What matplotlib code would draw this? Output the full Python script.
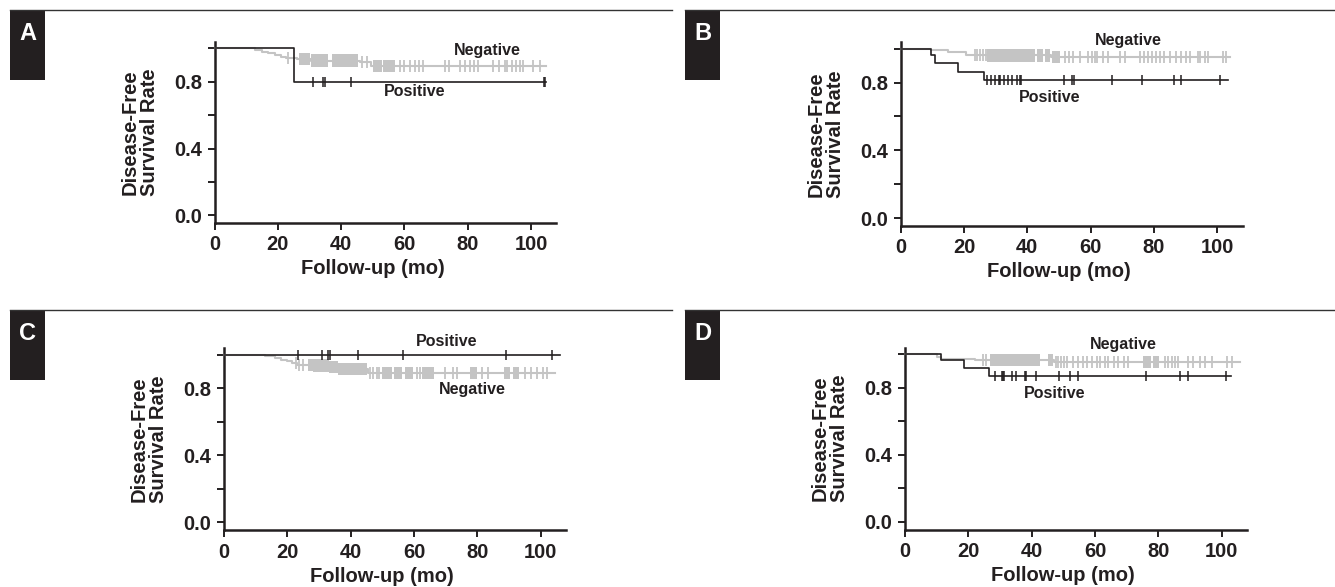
import numpy as np
import matplotlib.pyplot as plt
from matplotlib.patches import Rectangle
from matplotlib.lines import Line2D

plt.rcParams['font.family'] = ['Liberation Sans', 'DejaVu Sans']
plt.rcParams['font.weight'] = 'bold'

BLACK = '#231f20'
GRAY = '#c4c4c4'

# ------------------------------------------------------------
# dane (czas w miesiacach, przezycie)
# ------------------------------------------------------------
# A
a_pos_times = [0, 25.2]
a_pos_surv = [1.0, 0.80]
a_pos_censor = [31.0, 34.4, 34.9, 43.0, 103.9, 104.5]
a_pos_end = 104.8
a_neg_times = [0, 12.8, 15, 17, 19, 21, 22.5, 26, 30.4, 46, 49.5]
a_neg_surv = [1.0, 0.99, 0.98, 0.97, 0.96, 0.95, 0.945, 0.935, 0.927, 0.92, 0.895]
a_neg_censor = [23.1, 46.5, 48.1, 58.6, 59.9, 61.8, 63.4, 64.6, 66.0, 72.8, 73.9, 77.6,
                79.1, 80.7, 82.0, 83.3, 88.1, 89.9, 91.8, 92.3, 93.8, 95.1, 96.5, 97.5,
                100.7, 102.8]
a_neg_blocks = [(26.8, 30.2), (30.5, 36.0), (37.2, 45.4), (50.2, 52.8), (53.3, 57.0)]
a_neg_end = 104.8

# B
b_pos_times = [0, 9.5, 10.8, 18.2, 26.4]
b_pos_surv = [1.0, 0.962, 0.913, 0.864, 0.815]
b_pos_censor = [27.3, 28.5, 29.7, 31.0, 31.3, 32.6, 33.9, 35.2, 36.6, 37.6, 37.9, 51.6,
                54.2, 54.7, 66.7, 76.3, 86.2, 88.6, 100.7]
b_pos_end = 103.3
b_neg_times = [0, 9.5, 15, 20.5, 47.5]
b_neg_surv = [1.0, 0.99, 0.98, 0.96, 0.95]
b_neg_censor = [23.5, 24.0, 25.0, 26.1, 26.9, 51.8, 53.2, 54.5, 56.5, 59.2, 60.5, 61.3,
                62.0, 63.9, 65.5, 69.2, 70.7, 75.5, 76.8, 78.1, 79.4, 80.7, 81.8, 83.3,
                85.1, 87.0, 88.6, 90.2, 91.5, 93.9, 94.6, 96.0, 97.0, 101.7, 102.8]
b_neg_blocks = [(27.3, 42.4), (43.1, 45.0), (45.7, 47.1), (47.9, 50.2)]
b_neg_end = 103.9

# C
c_pos_times = [0]
c_pos_surv = [1.0]
c_pos_censor = [23.5, 31.0, 32.8, 33.5, 42.4, 56.6, 89.0, 103.6]
c_pos_end = 106.0
c_neg_times = [0, 12.9, 16, 18, 20, 21.5, 23, 28, 33, 36, 45.5]
c_neg_surv = [1.0, 0.99, 0.98, 0.97, 0.96, 0.95, 0.94, 0.935, 0.925, 0.915, 0.89]
c_neg_censor = [22.7, 23.8, 24.8, 46.1, 47.2, 48.2, 49.0, 61.0, 61.9, 69.8, 72.2, 73.5,
                81.4, 83.5, 95.0, 97.1, 98.7, 100.8, 102.1]
c_neg_blocks = [(26.6, 35.6), (35.6, 45.3), (50.0, 53.2), (53.8, 56.1), (57.1, 59.6),
                (62.6, 66.3), (77.7, 79.8), (88.4, 90.3), (91.4, 93.0)]
c_neg_end = 104.5

# D
d_pos_times = [0, 11.4, 18.7, 26.6]
d_pos_surv = [1.0, 0.967, 0.919, 0.873]
d_pos_censor = [28.4, 30.5, 31.0, 31.4, 33.7, 35.1, 37.9, 38.2, 41.4, 48.6, 52.1, 54.5,
                76.1, 86.8, 89.3, 101.4]
d_pos_end = 102.8
d_neg_times = [0, 10, 11.5, 22, 47.2]
d_neg_surv = [1.0, 0.985, 0.972, 0.967, 0.952]
d_neg_censor = [24.7, 25.5, 47.7, 48.4, 49.2, 50.2, 51.1, 53.2, 54.7, 56.1, 57.4, 59.0,
                60.5, 61.6, 63.2, 64.2, 66.0, 67.4, 69.2, 70.5, 82.1, 83.2, 84.2, 85.3,
                86.3, 89.5, 91.1, 93.2, 94.7, 96.9, 101.6, 103.2]
d_neg_blocks = [(26.8, 42.6), (45.1, 46.8), (75.3, 77.6), (78.2, 80.3)]
d_neg_end = 105.8

# pozycje etykiet krzywych (x, y, tekst)
a_labels = [(86.0, 0.99, 'Negative'), (63.3, 0.74, 'Positive')]
b_labels = [(71.8, 1.047, 'Negative'), (47.1, 0.712, 'Positive')]
c_labels = [(70.3, 1.077, 'Positive'), (78.5, 0.794, 'Negative')]
d_labels = [(68.9, 1.056, 'Negative'), (47.4, 0.764, 'Positive')]


def surv_at(t, times, surv):
    idx = np.searchsorted(times, t, side='right') - 1
    return np.asarray(surv)[idx]


def km_curve(ax, times, surv, end, censor, blocks, color, lw, ms, mew):
    xs = list(times) + [end]
    ys = list(surv) + [surv[-1]]
    ax.step(xs, ys, where='post', color=color, lw=lw, zorder=3, clip_on=False)
    c = np.array(censor)
    ax.plot(c, surv_at(c, times, surv), ls='none', marker='|', ms=ms, mew=mew,
            color=color, zorder=3, clip_on=False)
    h = 0.037
    for a, b in blocks:
        inner = [t for t in times if a < t < b]
        bx = np.array([a] + inner + [b])
        by = surv_at(bx, times, surv)
        ax.fill_between(bx, by - h, by + h, step='post', color=color, lw=0, zorder=3)


fig = plt.figure(figsize=(13.35, 5.87), dpi=100)
W, H = 1335, 587

# pozycje osi w pikselach: lewa, gora, szerokosc, wysokosc
panels = [
    ('A', (214.5, 41.8, 342, 181), (10, 10),
     (a_pos_times, a_pos_surv, a_pos_end, a_pos_censor),
     (a_neg_times, a_neg_surv, a_neg_end, a_neg_censor, a_neg_blocks), a_labels),
    ('B', (900.7, 41.8, 342, 184), (685, 10),
     (b_pos_times, b_pos_surv, b_pos_end, b_pos_censor),
     (b_neg_times, b_neg_surv, b_neg_end, b_neg_censor, b_neg_blocks), b_labels),
    ('C', (224, 348, 342, 182), (10, 310),
     (c_pos_times, c_pos_surv, c_pos_end, c_pos_censor),
     (c_neg_times, c_neg_surv, c_neg_end, c_neg_censor, c_neg_blocks), c_labels),
    ('D', (905, 347.5, 342, 182), (685, 310),
     (d_pos_times, d_pos_surv, d_pos_end, d_pos_censor),
     (d_neg_times, d_neg_surv, d_neg_end, d_neg_censor, d_neg_blocks), d_labels),
]

for letter, (l, t, w, hgt), (bx, by), pos, neg, labels in panels:
    ax = fig.add_axes([l / W, 1 - (t + hgt) / H, w / W, hgt / H])
    ax.set_xlim(0, 108)
    ax.set_ylim(-0.045, 1.04)
    for s in ['top', 'right']:
        ax.spines[s].set_visible(False)
    for s in ['left', 'bottom']:
        ax.spines[s].set_linewidth(1.8)
        ax.spines[s].set_color(BLACK)
    ax.set_xticks([0, 20, 40, 60, 80, 100])
    ax.set_yticks([0, 0.2, 0.4, 0.6, 0.8, 1.0])
    ax.set_yticklabels(['0.0', '', '0.4', '', '0.8', ''])
    ax.tick_params(length=5, width=1.4, color=BLACK, labelsize=14.5, pad=4,
                   labelcolor=BLACK)

    neg_t, neg_s, neg_e, neg_c, neg_b = neg
    km_curve(ax, neg_t, neg_s, neg_e, neg_c, neg_b, GRAY, 1.5, 9, 1.3)
    pos_t, pos_s, pos_e, pos_c = pos
    km_curve(ax, pos_t, pos_s, pos_e, pos_c, [], BLACK, 1.2, 7.5, 1.1)

    for x, y, txt in labels:
        ax.text(x, y, txt, ha='center', va='center', fontsize=11.5, color=BLACK,
                clip_on=False)

    ax.text(-75 / w, 0.5, 'Disease-Free\nSurvival Rate', transform=ax.transAxes,
            rotation=90, ha='center', va='center', fontsize=14.5, linespacing=1.0,
            color=BLACK)
    ax.text(50, -46 / hgt, 'Follow-up (mo)', transform=ax.get_xaxis_transform(),
            ha='center', va='center', fontsize=14.5, color=BLACK)

    # czarny kwadrat z litera i linia oddzielajaca
    fig.add_artist(Rectangle((bx / W, 1 - (by + 70) / H), 35 / W, 70 / H,
                             transform=fig.transFigure, color=BLACK, lw=0))
    fig.text((bx + 17.5) / W, 1 - (by + 23) / H, letter, ha='center', va='center',
             color='white', fontsize=17, fontweight='heavy')
    x_end = 672 if bx < 100 else W
    fig.add_artist(Line2D([bx / W, x_end / W], [1 - (by - 0.5) / H] * 2,
                          transform=fig.transFigure, color='#333333', lw=1))

fig.savefig('out.png', dpi=100)
